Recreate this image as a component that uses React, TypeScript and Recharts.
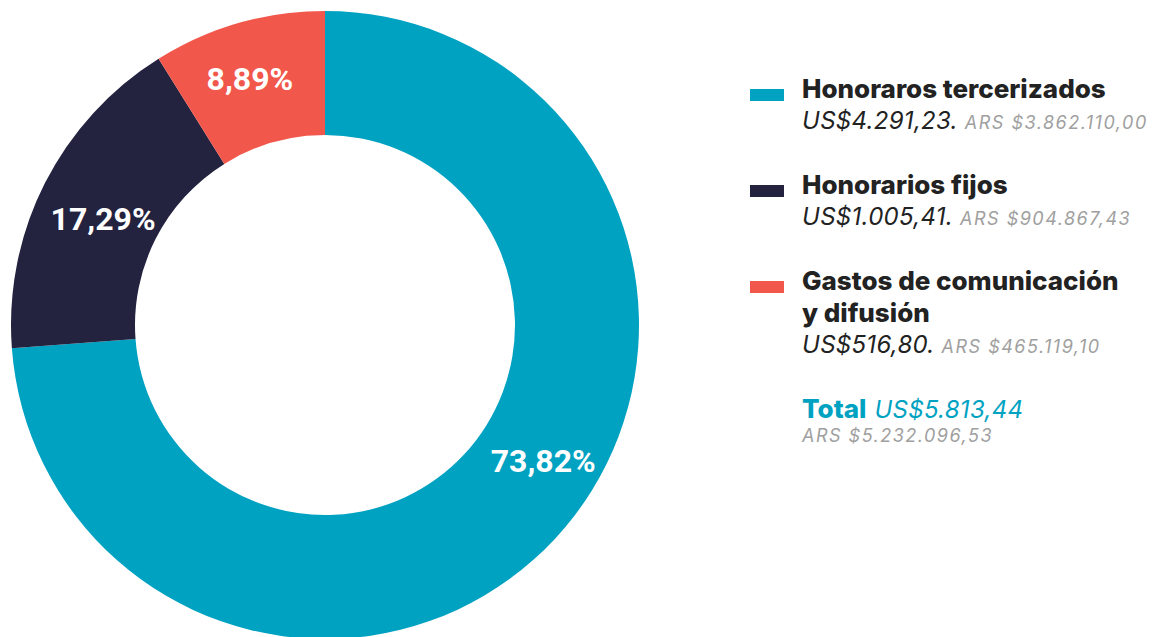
import { Cell, Pie, PieChart } from "recharts";

const categories = ["Honoraros tercerizados", "Honorarios fijos", "Gastos de comunicación y difusión"];
const titleLines = [["Honoraros tercerizados"], ["Honorarios fijos"], ["Gastos de comunicación", "y difusión"]];
const shares = [73.82, 17.29, 8.89];
const usdText = ["US$4.291,23.", "US$1.005,41.", "US$516,80."];
const arsText = ["ARS $3.862.110,00", "ARS $904.867,43", "ARS $465.119,10"];
const totalUsd = "US$5.813,44";
const totalArs = "ARS $5.232.096,53";

const COLORS = ["#00A2C2", "#23223F", "#F2574B"];
// small nudges (degrees / px) so the labels sit where the original put them
const LABEL_NUDGE = [11, 1.3, 1];
const LABEL_RADIAL = [5, -6, 5];

const data = categories.map((name, i) => ({ name, value: shares[i] }));

const RAD = Math.PI / 180;

function SliceLabel(props: any) {
  const { cx, cy, midAngle, innerRadius, outerRadius, index } = props;
  const r = (innerRadius + outerRadius) / 2 + LABEL_RADIAL[index];
  const a = (midAngle + LABEL_NUDGE[index]) * RAD;
  const x = cx + r * Math.cos(a);
  const y = cy - r * Math.sin(a);
  return (
    <text
      x={x}
      y={y}
      fill="#FFFFFF"
      textAnchor="middle"
      dominantBaseline="central"
      style={{ fontFamily: "Roboto", fontWeight: 700, fontSize: 32 }}
    >
      {shares[index].toFixed(2).replace(".", ",")}%
    </text>
  );
}

const legendFont = "Inter, 'Work Sans', sans-serif";

const subLine = { height: 32, display: "flex", alignItems: "baseline", fontStyle: "italic", whiteSpace: "nowrap" } as const;
const usdStyle = { fontSize: 24, lineHeight: "32px", letterSpacing: 0.3, color: "#222", marginRight: 7 };
const arsStyle = { fontSize: 18, lineHeight: "32px", letterSpacing: 1.5, color: "#A0A0A0" };

export default function App() {
  return (
    <div style={{ position: "absolute", left: 0, top: 0, width: 1154, height: 637, background: "#fff" }}>
      <PieChart
        width={1154}
        height={637}
        margin={{ top: 0, right: 0, bottom: 0, left: 0 }}
        style={{ position: "absolute", left: 0, top: 0 }}
      >
        <Pie
          data={data}
          dataKey="value"
          nameKey="name"
          cx={325}
          cy={325}
          innerRadius={190}
          outerRadius={314}
          startAngle={90}
          endAngle={-270}
          stroke="none"
          label={SliceLabel}
          labelLine={false}
          isAnimationActive={false}
        >
          {data.map((_, i) => (
            <Cell key={i} fill={COLORS[i]} />
          ))}
        </Pie>
      </PieChart>

      <div style={{ position: "absolute", left: 750, top: 73, fontFamily: legendFont, color: "#222" }}>
        {categories.map((c, i) => (
          <div key={c} style={{ position: "relative", paddingLeft: 52, marginBottom: 32 }}>
            <div
              style={{
                position: "absolute",
                left: 0,
                top: 16,
                width: 34,
                height: 12,
                background: COLORS[i],
              }}
            />
            {titleLines[i].map((t) => (
              <div key={t} style={{ fontSize: 26, fontWeight: 800, lineHeight: "32px", height: 32, whiteSpace: "nowrap" }}>
                {t}
              </div>
            ))}
            <div style={subLine}>
              <span style={usdStyle}>{usdText[i]}</span>
              <span style={arsStyle}>{arsText[i]}</span>
            </div>
          </div>
        ))}
        <div style={{ paddingLeft: 52, color: "#00A2C2" }}>
          <div style={subLine}>
            <span style={{ fontSize: 26, fontWeight: 800, fontStyle: "normal", lineHeight: "32px", marginRight: 8 }}>Total</span>
            <span style={{ ...usdStyle, color: "#00A2C2" }}>{totalUsd}</span>
          </div>
          <div style={{ ...arsStyle, fontStyle: "italic", lineHeight: "22px" }}>{totalArs}</div>
        </div>
      </div>
    </div>
  );
}
